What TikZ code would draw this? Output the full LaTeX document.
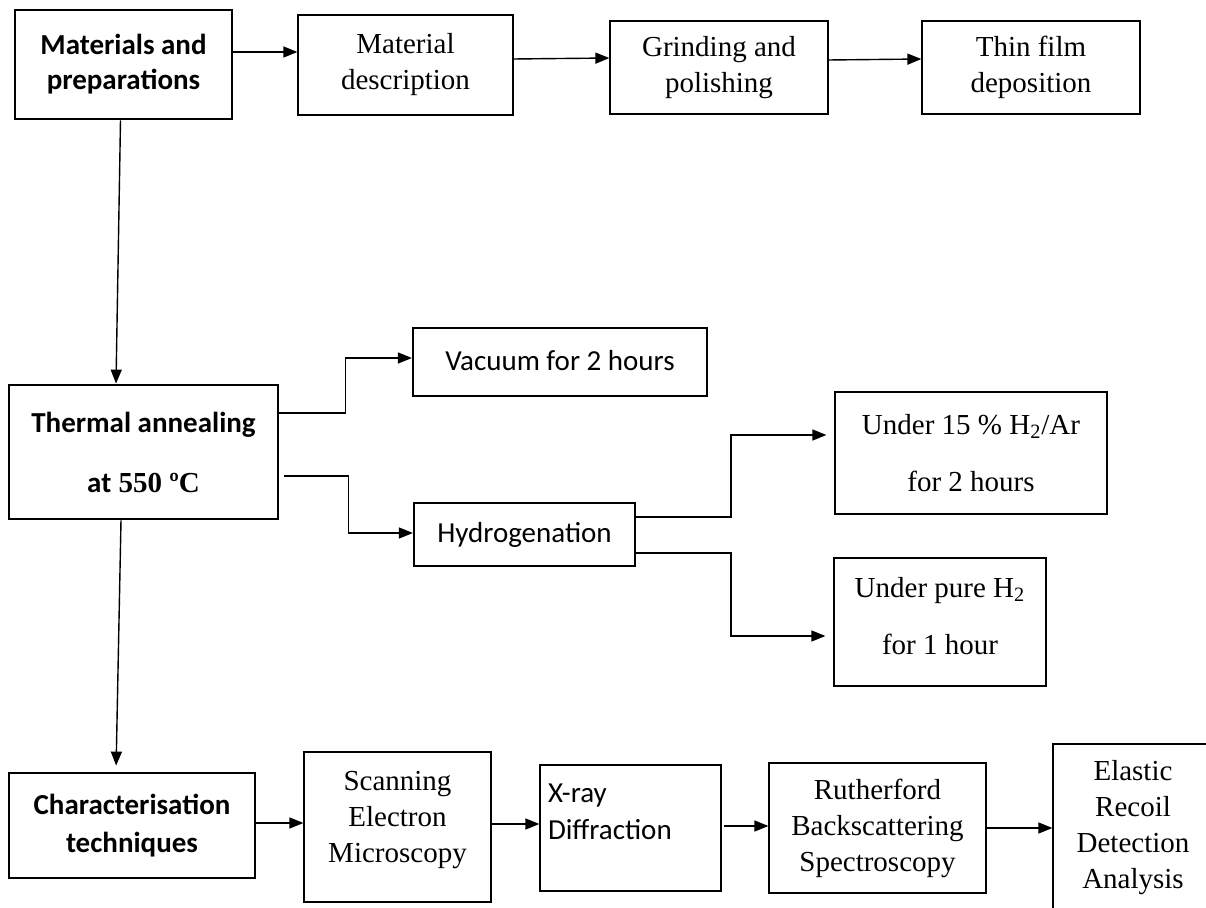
\documentclass[tikz,border=0pt]{standalone}
\usepackage{fontspec}
\setmainfont{Liberation Serif}
\newfontfamily\calibri{Carlito}
\usetikzlibrary{arrows.meta,calc}
\begin{document}
\begin{tikzpicture}[x=0.5pt,y=-0.5pt,
  box/.style={draw, line width=0.6pt, inner sep=0pt, align=center, font=\fontsize{14.5}{18}\selectfont},
  thickbox/.style={box, line width=1.4pt, font=\calibri\bfseries\fontsize{14.5}{17.5}\selectfont},
  midbox/.style={box, line width=1.1pt, font=\calibri\fontsize{14.5}{18}\selectfont},
  sz/.style 2 args={minimum width=#1*0.5pt, minimum height=#2*0.5pt},
  arr/.style={-{Triangle[length=7pt,width=5.5pt]}, line width=0.7pt}]
\fill[white] (0,0) rectangle (1206,908);
\path[use as bounding box] (0,0) rectangle (1206,908);
\clip (0,0) rectangle (1206,908);

% top row
\node[thickbox, sz={217}{109}] (mat) at (123.5,64.5) {Materials and\\preparations};
\node[box, sz={215}{100}] (desc) at (405.5,65) {Material\\description};
\node[box, sz={218}{93}] (grind) at (719,67.5) {Grinding and\\polishing};
\node[box, sz={218}{93}] (thin) at (1031,67.5) {Thin film\\deposition};

% middle
\node[thickbox, sz={269}{134}, font=\bfseries\fontsize{14.5}{30}\selectfont] (therm) at (143.5,452)
  {{\calibri Thermal annealing}\\{\calibri at} 550 ºC};
\node[midbox, sz={294}{68}] (vac) at (560,362) {Vacuum for 2 hours\\[-16pt]\mbox{}};
\node[midbox, sz={221}{63}] (hyd) at (524.5,534.5) {Hydrogenation};
\node[box, sz={272}{122}, font=\fontsize{14.5}{28.5}\selectfont] (h2ar) at (971,453)
  {Under 15 \% H\textsubscript{2}/Ar\\for 2 hours};
\node[box, sz={212}{128}, font=\fontsize{14.5}{28.5}\selectfont] (pure) at (940,622)
  {Under pure H\textsubscript{2}\\for 1 hour\\[-22pt]\mbox{}};

% bottom row
\node[thickbox, sz={246}{105}, font=\calibri\bfseries\fontsize{14.5}{19}\selectfont] (char) at (132,825.5)
  {Characterisation\\techniques};
\node[box, sz={187}{150}] (sem) at (397.5,827) {Scanning\\Electron\\Microscopy\\[-8pt]\mbox{}};
\node[box, sz={181}{126}, align=left, text width=82.5pt, inner xsep=4pt,
  font=\calibri\fontsize{14.5}{18.5}\selectfont] (xrd) at (630.5,828) {X-ray\\Diffraction\\[-2pt]\mbox{}};
\node[box, sz={217}{130}] (rbs) at (877.5,828) {Rutherford\\Backscattering\\Spectroscopy};
\node[box, sz={160}{167}] (erda) at (1133,827.5) {Elastic\\Recoil\\Detection\\Analysis};

% connectors
\draw[arr] ([yshift=6.25pt]mat.east) -- ([yshift=6.5pt]desc.west);
\draw[arr] ([yshift=3pt]desc.east) -- ([yshift=4.75pt]grind.west);
\draw[arr] ([yshift=3.75pt]grind.east) -- ([yshift=4.25pt]thin.west);
\draw[arr] ([xshift=-1.5pt]mat.south) -- ([xshift=-13.75pt]therm.north);
\draw[arr] ([yshift=19.5pt]therm.east) -- ++(66,0) |- ([yshift=2pt]vac.west);
\draw[arr] ([xshift=2.5pt,yshift=-12pt]therm.east) -- ++(64,0) |- ([yshift=0.75pt]hyd.west);
\draw[arr, shorten >=4pt] ([yshift=8.75pt]hyd.east) -- ++(95,0) |- ([yshift=9pt]h2ar.west);
\draw[arr, shorten >=4pt] ([yshift=-9.25pt]hyd.east) -- ++(95,0) |- ([yshift=-7pt]pure.west);
\draw[arr, shorten >=3pt] ([xshift=-11.25pt]therm.south) -- ([xshift=-8pt]char.north);
\draw[arr] ([yshift=1.25pt]char.east) -- ([yshift=2pt]sem.west);
\draw[arr] ([yshift=1.5pt]sem.east) -- ([yshift=2pt]xrd.west);
\draw[arr] ([xshift=1pt,yshift=1pt]xrd.east) -- ([yshift=1pt]rbs.west);
\draw[arr] (rbs.east) -- ([yshift=-0.25pt]erda.west);
\end{tikzpicture}
\end{document}
